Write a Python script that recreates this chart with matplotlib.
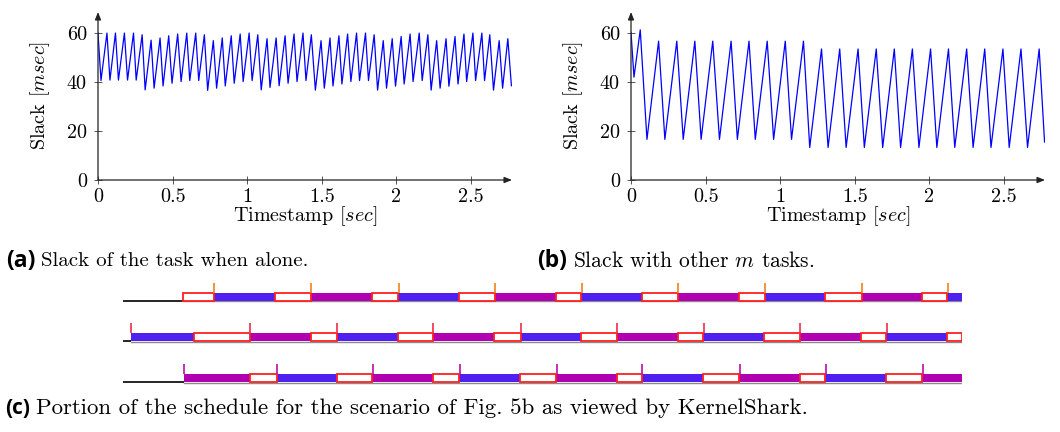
import matplotlib
matplotlib.use("Agg")
import matplotlib.pyplot as plt

plt.rcParams["font.family"] = "cmr10"
plt.rcParams["mathtext.fontset"] = "cm"
plt.rcParams["axes.unicode_minus"] = False

# ---- data: slack of the task when alone (a) ----
a_t = [0.000, 0.020, 0.060, 0.080, 0.117, 0.137, 0.177, 0.198, 0.238, 0.256,
       0.296, 0.316, 0.356, 0.376, 0.416, 0.436, 0.474, 0.496, 0.534, 0.557,
       0.595, 0.615, 0.655, 0.675, 0.713, 0.735, 0.773, 0.795, 0.833, 0.853,
       0.893, 0.913, 0.953, 0.973, 1.013, 1.033, 1.071, 1.094, 1.133, 1.153,
       1.194, 1.214, 1.254, 1.274, 1.314, 1.334, 1.374, 1.394, 1.430, 1.457,
       1.495, 1.517, 1.555, 1.575, 1.615, 1.635, 1.673, 1.695, 1.733, 1.753,
       1.793, 1.813, 1.851, 1.874, 1.912, 1.934, 1.972, 1.994, 2.032, 2.052,
       2.092, 2.112, 2.153, 2.173, 2.211, 2.233, 2.270, 2.293, 2.333, 2.352,
       2.393, 2.413, 2.453, 2.471, 2.513, 2.531, 2.573, 2.591, 2.626, 2.651,
       2.689, 2.712, 2.747, 2.771]
a_v = [60.0, 40.6, 60.0, 40.8, 60.0, 40.8, 60.0, 40.8, 60.0, 40.8,
       59.3, 36.8, 57.1, 37.5, 58.0, 38.4, 58.9, 39.5, 59.6, 40.2,
       60.0, 40.6, 60.0, 40.6, 59.3, 36.6, 56.9, 37.5, 58.0, 38.4,
       58.9, 39.5, 59.6, 40.2, 60.0, 40.6, 59.3, 36.8, 57.7, 37.8,
       58.0, 38.5, 58.9, 39.5, 59.6, 40.2, 60.0, 40.6, 59.3, 36.7,
       56.9, 37.5, 58.0, 38.4, 58.9, 39.2, 59.6, 40.2, 60.0, 40.6,
       60.0, 40.6, 59.3, 36.7, 56.9, 37.5, 57.7, 38.3, 58.6, 39.2,
       59.6, 40.2, 60.0, 40.6, 59.3, 36.7, 56.9, 37.5, 57.7, 38.3,
       58.6, 39.2, 59.6, 40.2, 60.0, 40.6, 60.0, 40.6, 59.3, 36.7,
       56.9, 37.5, 57.7, 38.5]

# ---- data: slack with other m tasks (b) ----
b_t = [0.000, 0.020, 0.062, 0.107, 0.185, 0.227, 0.307, 0.350, 0.428, 0.470,
       0.548, 0.593, 0.671, 0.713, 0.791, 0.833, 0.913, 0.956, 1.034, 1.076,
       1.156, 1.198, 1.277, 1.321, 1.399, 1.442, 1.522, 1.564, 1.644, 1.687,
       1.765, 1.807, 1.886, 1.930, 2.008, 2.050, 2.128, 2.170, 2.250, 2.293,
       2.371, 2.413, 2.493, 2.535, 2.614, 2.658, 2.736, 2.772]
b_v = [60.3, 42.0, 61.3, 16.6, 56.7, 16.6, 56.7, 16.6, 56.7, 16.6,
       56.7, 16.6, 56.7, 16.6, 56.7, 16.6, 56.7, 16.6, 56.7, 16.6,
       56.7, 13.3, 53.5, 13.3, 53.5, 13.3, 53.5, 13.3, 53.5, 13.3,
       53.5, 13.3, 53.5, 13.3, 53.5, 13.3, 53.5, 13.3, 53.5, 13.3,
       53.5, 13.3, 53.5, 13.3, 53.5, 13.3, 53.5, 15.5]

x_ticks = [0, 0.5, 1, 1.5, 2, 2.5]
x_labels = ["0", "0.5", "1", "1.5", "2", "2.5"]
y_ticks = [0, 20, 40, 60]
y_labels = ["0", "20", "40", "60"]

# ---- data: schedule (c), times in ms; A = blue task, B = magenta task, W = waiting box ----
cpu0 = [(19.7, 29.8, "W"), (29.8, 49.8, "A"), (49.8, 61.6, "W"), (61.6, 81.6, "B"),
        (81.6, 90.2, "W"), (90.2, 110.2, "A"), (110.2, 122.0, "W"), (122.0, 142.0, "B"),
        (142.0, 150.2, "W"), (150.2, 170.2, "A"), (170.2, 182.0, "W"), (182.0, 202.0, "B"),
        (202.0, 210.5, "W"), (210.5, 230.2, "A"), (230.2, 242.3, "W"), (242.3, 262.0, "B"),
        (262.0, 270.2, "W"), (270.2, 275.1, "A")]
cpu1 = [(2.6, 23.3, "A"), (23.3, 41.6, "W"), (41.6, 61.6, "B"), (61.6, 70.2, "W"),
        (70.2, 90.2, "A"), (90.2, 101.6, "W"), (101.6, 121.6, "B"), (121.6, 130.4, "W"),
        (130.4, 150.2, "A"), (150.2, 162.0, "W"), (162.0, 182.0, "B"), (182.0, 190.2, "W"),
        (190.2, 210.2, "A"), (210.2, 222.0, "W"), (222.0, 242.0, "B"), (242.0, 250.2, "W"),
        (250.2, 270.2, "A"), (270.2, 275.1, "W")]
cpu2 = [(20.0, 41.6, "B"), (41.6, 50.4, "W"), (50.4, 70.2, "A"), (70.2, 81.8, "W"),
        (81.8, 101.6, "B"), (101.6, 110.3, "W"), (110.3, 130.2, "A"), (130.2, 142.0, "W"),
        (142.0, 162.0, "B"), (162.0, 170.2, "W"), (170.2, 190.2, "A"), (190.2, 202.0, "W"),
        (202.0, 222.0, "B"), (222.0, 230.2, "W"), (230.2, 250.2, "A"), (250.2, 262.0, "W"),
        (262.0, 275.1, "B")]
cpu0_marks = [30.0, 61.8, 90.4, 122.0, 150.4, 182.0, 210.6, 242.4, 270.4]
cpu1_marks = [2.5, 41.6, 70.2, 101.7, 130.4, 162.1, 190.5, 222.0, 250.5]
cpu2_marks = [20.0, 50.4, 82.1, 110.5, 142.2, 170.3, 202.3, 230.5, 262.3]
window_end = 275.1

W, H = 1060, 432
fig = plt.figure(figsize=(W / 100, H / 100), dpi=100)
fs = 14.5


def px_axes(left, top, right, bottom):
    return fig.add_axes([left / W, 1 - bottom / H, (right - left) / W, (bottom - top) / H])


def slack_plot(ax, t, v):
    ax.plot(t, v, color="#0000ff", lw=0.9)
    ax.set_xlim(0, 2.775)
    ax.set_ylim(0, 68.6)
    ax.set_xticks(x_ticks, x_labels)
    ax.set_yticks(y_ticks, y_labels)
    for s in ax.spines.values():
        s.set_visible(False)
    ax.tick_params(direction="inout", length=6, width=0.7, color="#555555",
                   labelsize=fs)
    ax.tick_params(axis="y", pad=5)
    ax.tick_params(axis="x", pad=3)
    ax.annotate("", xy=(1.0, 0), xytext=(0, 0), xycoords="axes fraction",
                arrowprops=dict(arrowstyle="-|>,head_length=0.45,head_width=0.18",
                                lw=0.9, color="#222222", shrinkA=0, shrinkB=0))
    ax.annotate("", xy=(0, 1.0), xytext=(0, 0), xycoords="axes fraction",
                arrowprops=dict(arrowstyle="-|>,head_length=0.45,head_width=0.18",
                                lw=0.9, color="#222222", shrinkA=0, shrinkB=0))
    ax.set_ylabel(r"Slack [$msec$]", fontsize=fs)
    ax.set_xlabel(r"Timestamp [$sec$]", fontsize=fs)
    ax.yaxis.set_label_coords(-0.14, 0.5)
    ax.xaxis.set_label_coords(0.5, -0.215)
    ax.xaxis.label.set_va("center")
    ax.yaxis.label.set_va("center")


ax_a = px_axes(98, 12, 512, 180)
slack_plot(ax_a, a_t, a_v)
ax_b = px_axes(631, 12, 1045, 180)
slack_plot(ax_b, b_t, b_v)

# ---- schedule panel ----
ax_c = px_axes(123, 280, 962, 390)
ax_c.set_xlim(0, window_end)
ax_c.set_ylim(110, 0)
ax_c.axis("off")

task_color = {"A": "#5020f0", "B": "#b000b0"}
rows = [(cpu0, cpu0_marks, "#f08c28", 20.7),
        (cpu1, cpu1_marks, "#f03c5a", 61.0),
        (cpu2, cpu2_marks, "#c020b0", 102.0)]
bar_h = 7.6
for segs, marks, mcol, base in rows:
    first = segs[0][0]
    ax_c.plot([0, first], [base, base], color="black", lw=1.2, solid_capstyle="butt")
    ax_c.plot([first, window_end], [base + 0.6, base + 0.6], color="#8a8a8a", lw=1.0)
    for s, e, kind in segs:
        if kind == "W":
            ax_c.barh(base - bar_h, e - s, left=s, height=bar_h, align="edge",
                      facecolor="white", edgecolor="#ff2020", lw=1.3, zorder=3)
        else:
            ax_c.barh(base - bar_h, e - s, left=s, height=bar_h, align="edge",
                      facecolor=task_color[kind], edgecolor="none", zorder=2)
    ax_c.vlines(marks, base - bar_h - 10, base - bar_h, color=mcol, lw=1.3, zorder=4)

# ---- captions ----


def caption(x, y, tag, rest, size, tag_size):
    t1 = fig.text(x / W, 1 - y / H, tag, fontsize=tag_size, family="Open Sans",
                  weight="bold", va="center", ha="left")
    fig.canvas.draw()
    bb = t1.get_window_extent()
    fig.text((bb.x1 + 6) / W, 1 - y / H, rest, fontsize=size, va="center", ha="left")


caption(6, 261, "(a)", "Slack of the task when alone.", 15, 16.5)
caption(537, 261, "(b)", r"Slack with other $m$ tasks.", 15.5, 16.5)
caption(5, 408, "(c)", "Portion of the schedule for the scenario of Fig. 5b as viewed by KernelShark.",
        16.5, 15)

fig.savefig("out.png", dpi=100)
